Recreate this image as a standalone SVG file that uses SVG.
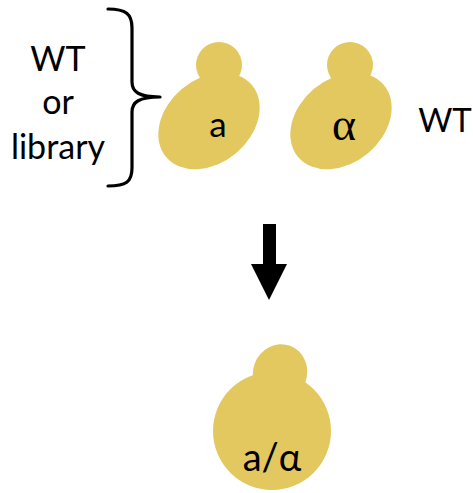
<svg xmlns="http://www.w3.org/2000/svg" width="473" height="493" viewBox="0 0 473 493">
  <style>
    .cell { fill: #E3C860; }
    .lbl { font-family: Lato, "Open Sans", "Liberation Sans", sans-serif; fill: #000; }
    .greek { font-family: "Liberation Serif", "DejaVu Serif", serif; fill: #000; }
  </style>
  <rect width="473" height="493" fill="#fff"/>

  <!-- strain label and brace -->
  <g id="strain-label">
    <text class="lbl" x="58" y="71" font-size="34" text-anchor="middle">WT</text>
    <text class="lbl" x="58" y="114" font-size="34" text-anchor="middle">or</text>
    <text class="lbl" x="58" y="159" font-size="34" text-anchor="middle">library</text>
  </g>
  <g id="brace">
    <path d="M108,9 C126,9 132,14 132,28 L132,82 C132,92 139,97 160,97 C139,97 132,102 132,112 L132,168 C132,182 126,186 108,186" fill="none" stroke="#000" stroke-width="3.2" stroke-linecap="round" stroke-linejoin="round"/>
  </g>

  <!-- mating type a cell -->
  <g id="cell-a">
    <circle class="cell" cx="219" cy="65" r="23"/>
    <ellipse class="cell" cx="209" cy="121" rx="56" ry="42" transform="rotate(-40 209 121)"/>
    <text class="lbl" x="218" y="137" font-size="35" text-anchor="middle">a</text>
  </g>

  <!-- mating type alpha cell -->
  <g id="cell-alpha">
    <circle class="cell" cx="350" cy="65" r="23"/>
    <ellipse class="cell" cx="341" cy="121" rx="56" ry="42" transform="rotate(-40 341 121)"/>
    <text class="greek" x="344" y="140" font-size="46" text-anchor="middle">α</text>
  </g>

  <g id="wt-label">
    <text class="lbl" x="445" y="132" font-size="33" text-anchor="middle">WT</text>
  </g>

  <!-- mating arrow -->
  <g id="connectors">
    <rect x="263" y="224" width="13" height="41" fill="#000"/>
    <polygon points="251,264 287,264 269,300" fill="#000"/>
  </g>

  <!-- diploid a/alpha cell -->
  <g id="cell-diploid">
    <ellipse class="cell" cx="280" cy="373" rx="27" ry="29" transform="rotate(20 280 373)"/>
    <ellipse class="cell" cx="272" cy="431" rx="59" ry="59"/>
    <text class="lbl" x="272" y="471" font-size="38" text-anchor="middle">a/α</text>
  </g>
</svg>
